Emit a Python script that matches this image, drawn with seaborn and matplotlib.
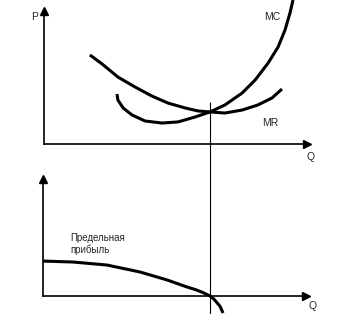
import matplotlib
matplotlib.use("Agg")
import matplotlib.pyplot as plt
import seaborn as sns
import pandas as pd

# ---- data ----
mc_q = [2.64, 2.67, 2.86, 3.18, 3.65, 4.26, 4.84, 5.46, 6.00, 6.54, 7.16, 7.63, 8.10, 8.46, 8.71, 8.89, 9.00]
mc_p = [3.65, 3.21, 2.63, 2.12, 1.68, 1.53, 1.61, 1.97, 2.34, 2.85, 3.72, 4.67, 5.91, 7.08, 8.32, 9.56, 10.51]

mr_q = [1.66, 2.10, 2.67, 3.29, 3.90, 4.48, 5.10, 5.57, 6.00, 6.54, 7.16, 7.73, 8.24, 8.60]
mr_p = [6.50, 5.84, 4.89, 4.16, 3.50, 2.99, 2.63, 2.41, 2.34, 2.26, 2.48, 2.85, 3.36, 4.01]

profit_q = [0.0, 1.08, 2.30, 3.49, 4.46, 5.17, 5.50, 5.75, 6.00, 6.14, 6.36, 6.47]
profit_v = [2.55, 2.48, 2.26, 1.75, 1.17, 0.66, 0.45, 0.25, 0.0, -0.22, -0.75, -1.24]

q_star = 6.0
vline_top = 3.1
vline_bottom = -12.5

labels_top = {"P": "P", "Q": "Q", "MC": "MC", "MR": "MR"}
profit_label = "Предельная\nприбыль"

# ---- figure ----
sns.set_theme(style="white")
plt.rcParams["font.family"] = ["Liberation Sans", "DejaVu Sans"]

W, H = 359, 314
fig = plt.figure(figsize=(W / 100, H / 100), dpi=100)
fig.patch.set_facecolor("white")


def rect(x0, y_top, x1, y_bot):
    return [x0 / W, (H - y_bot) / H, (x1 - x0) / W, (y_bot - y_top) / H]


ax1 = fig.add_axes(rect(44, 11, 307, 144))
ax2 = fig.add_axes(rect(43, 179, 306, 296))

ax1.set_xlim(0, (307 - 44) / 27.67)
ax1.set_ylim(0, (144 - 11) / 13.7)
ax2.set_xlim(0, (306 - 43) / 27.83)
ax2.set_ylim(0, (296 - 179) / 13.7)

for ax in (ax1, ax2):
    ax.patch.set_visible(False)
    ax.set_xticks([])
    ax.set_yticks([])
    for s in ("top", "right"):
        ax.spines[s].set_visible(False)
    for s in ("left", "bottom"):
        ax.spines[s].set_color("black")
        ax.spines[s].set_linewidth(1.2)
    ax.plot(1, 0, ">", color="black", markersize=6, transform=ax.get_yaxis_transform(), clip_on=False)
    ax.plot(0, 1, "^", color="black", markersize=6, transform=ax.get_xaxis_transform(), clip_on=False)

df_mc = pd.DataFrame({"Q": mc_q, "P": mc_p})
df_mr = pd.DataFrame({"Q": mr_q, "P": mr_p})
df_pr = pd.DataFrame({"Q": profit_q, "V": profit_v})

sns.lineplot(data=df_mc, x="Q", y="P", ax=ax1, color="black", linewidth=2.2, sort=False, estimator=None)
sns.lineplot(data=df_mr, x="Q", y="P", ax=ax1, color="black", linewidth=2.2, sort=False, estimator=None)
sns.lineplot(data=df_pr, x="Q", y="V", ax=ax2, color="black", linewidth=2.2, sort=False, estimator=None)
ax1.plot([q_star, q_star], [vline_top, vline_bottom], color="black", linewidth=0.8, clip_on=False)

for ax in (ax1, ax2):
    for ln in ax.lines:
        ln.set_clip_on(False)
        ln.set_solid_capstyle("butt")
        ln.set_solid_joinstyle("round")
    ax.set_xlabel("")
    ax.set_ylabel("")

fs = 7.5
fig.text(35 / W, 1 - 17 / H, labels_top["P"], fontsize=fs, ha="center", va="center")
fig.text(311 / W, 1 - 157 / H, labels_top["Q"], fontsize=fs, ha="center", va="center")
fig.text(272 / W, 1 - 17 / H, labels_top["MC"], fontsize=fs, ha="center", va="center")
fig.text(270 / W, 1 - 123 / H, labels_top["MR"], fontsize=fs, ha="center", va="center")
fig.text(313 / W, 1 - 306 / H, labels_top["Q"], fontsize=fs, ha="center", va="center")
fig.text(70 / W, 1 - 244 / H, profit_label, fontsize=7, ha="left", va="center", linespacing=1.2)

fig.savefig("out.png", dpi=100, facecolor="white")
